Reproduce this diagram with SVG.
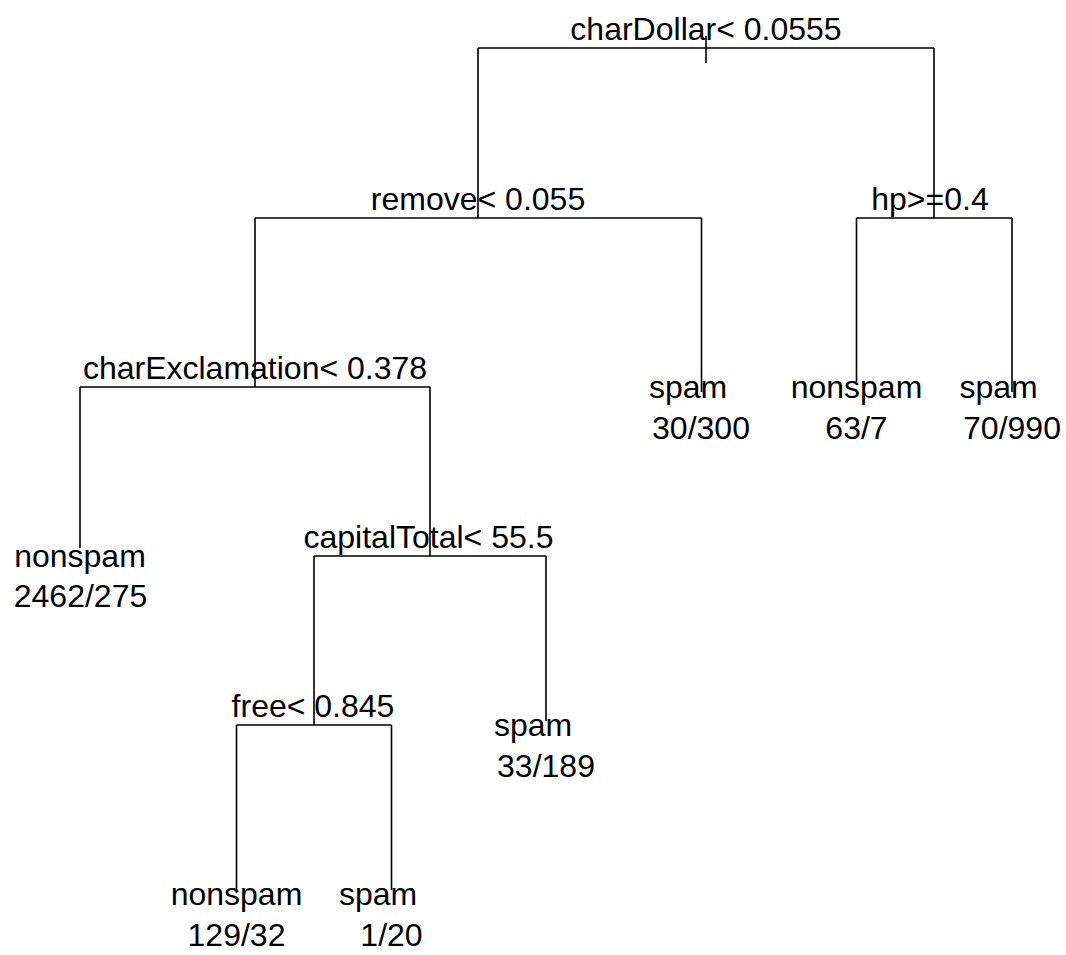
<svg xmlns="http://www.w3.org/2000/svg" width="1066" height="955" viewBox="0 0 1066 955">
<style>
text{font-family:"Liberation Sans",Arial,sans-serif;font-size:32px;fill:#000;text-anchor:middle}
.c path{fill:none;stroke:#000;stroke-width:1.6}
</style>
<rect width="1066" height="955" fill="#fff"/>
<g class="c" id="connectors">
<path d="M478,48H934M706,36V63"/>
<path d="M478,48V218M934,48V218"/>
<path d="M255,218H701.5M255,218V387M701.5,218V392"/>
<path d="M856.5,218H1012M856.5,218V382M1012,218V392"/>
<path d="M80,387H430M80,387V548M430,387V556"/>
<path d="M314,556H546M314,556V725M546,556V721"/>
<path d="M236.5,725H391.5M236.5,725V893M391.5,725V890"/>
</g>
<g id="n1"><text x="706" y="40">charDollar&lt; 0.0555</text></g>
<g id="n2"><text x="478" y="210">remove&lt; 0.055</text></g>
<g id="n3"><text x="930" y="210">hp&gt;=0.4</text></g>
<g id="n4"><text x="255" y="379">charExclamation&lt; 0.378</text></g>
<g id="n5"><text x="688" y="398">spam</text><text x="701" y="439">30/300</text></g>
<g id="n6"><text x="856.5" y="398">nonspam</text><text x="856.5" y="439">63/7</text></g>
<g id="n7"><text x="998.5" y="398">spam</text><text x="1012" y="439">70/990</text></g>
<g id="n8"><text x="80" y="567">nonspam</text><text x="80.5" y="607">2462/275</text></g>
<g id="n9"><text x="428.5" y="548">capitalTotal&lt; 55.5</text></g>
<g id="n10"><text x="313" y="717">free&lt; 0.845</text></g>
<g id="n11"><text x="533" y="736">spam</text><text x="546" y="777">33/189</text></g>
<g id="n12"><text x="236.5" y="905">nonspam</text><text x="236.5" y="946">129/32</text></g>
<g id="n13"><text x="378" y="905">spam</text><text x="391.5" y="946">1/20</text></g>
</svg>
